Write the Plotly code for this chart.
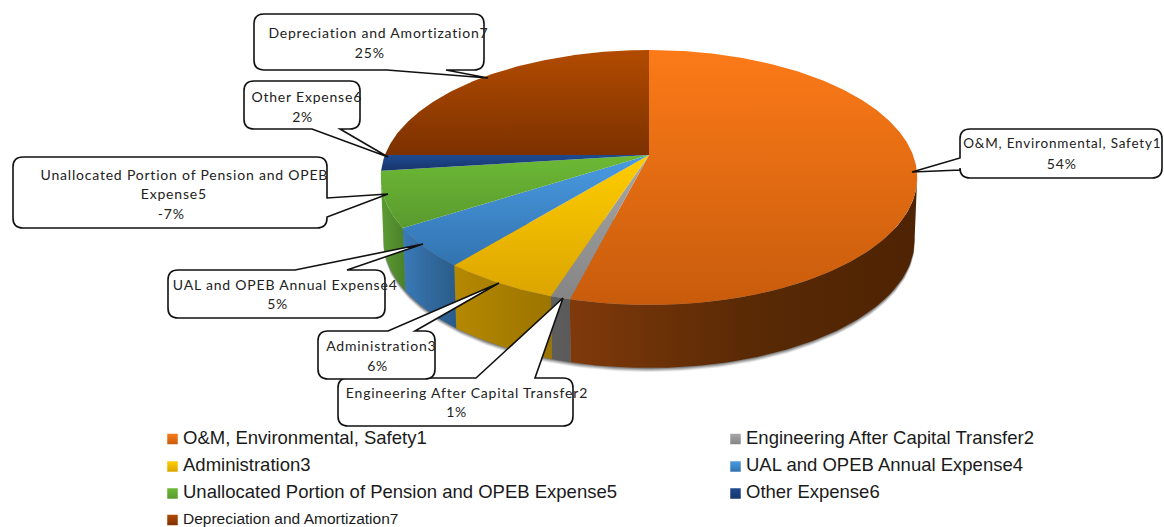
import numpy as np
import plotly.graph_objects as go

# ---------- data ----------
names = ["O&M, Environmental, Safety1", "Engineering After Capital Transfer2", "Administration3",
         "UAL and OPEB Annual Expense4", "Unallocated Portion of Pension and OPEB Expense5",
         "Other Expense6", "Depreciation and Amortization7"]
percent = [54, 1, 6, 5, -7, 2, 25]

# ---------- styles ----------
top_colors = [("#fc7a18", "#c85c0c"), ("#a8a8a8", "#858585"), ("#ffcd00", "#dca500"),
              ("#4a9be2", "#3273b0"), ("#6cb935", "#5a9a2e"), ("#1f4a90", "#16356c"),
              ("#b24b00", "#7c3100")]
side_colors = [("#80390a", "#5a2a05", "#4e2303"), ("#5e5e5e", "#5c5c5c", "#5a5a5a"), ("#b58800", "#a87e00", "#9c7500"),
               ("#3a7ab8", "#32699e", "#2a5c8a"), ("#5d9c34", "#538e2e", "#4a8028"), ("#16356c", "#16356c", "#16356c"),
               ("#7c3100", "#7c3100", "#7c3100")]

# ---------- projection of the tilted disc onto the page ----------
CX, CY, RX, RY, PERSP = 649.0, 155.0, 264.0, 123.5, 0.1765
DEPTH, BOTTOM_SCALE = 63.0, 0.99


def project(theta):
    X, Z = np.sin(theta), -np.cos(theta)
    s = 1.0 / (1.0 - PERSP * Z)
    return CX + RX * X * s, CY + RY * Z * s


def project_bottom(theta):
    x, y = project(theta)
    return CX + (x - CX) * BOTTOM_SCALE, y + DEPTH


mags = np.abs(np.array(percent, dtype=float))
edges = np.concatenate([[0.0], np.cumsum(mags) / mags.sum() * 2 * np.pi])
VIS_A = np.arccos(-PERSP)
VIS_B = 2 * np.pi - VIS_A

fig = go.Figure()


def poly(xs, ys, kind, stops):
    xs, ys = np.asarray(xs), np.asarray(ys)
    if kind == "vertical":
        start, stop = ys.min(), ys.max()
    else:
        start, stop = xs.min(), xs.max()
    scale = [[j / (len(stops) - 1), c] for j, c in enumerate(stops)]
    fig.add_trace(go.Scatter(
        x=xs, y=ys, mode="lines", line=dict(width=0), fill="toself", hoverinfo="skip", showlegend=False,
        fillgradient=dict(type=kind, colorscale=scale, start=start, stop=stop)))


# soft shadow under the disc
tt = np.linspace(VIS_A - 0.1, VIS_B + 0.1, 160)
bx, by = project_bottom(tt)
for off, alpha in [(4.0, 0.12), (3.0, 0.18), (2.0, 0.25), (1.0, 0.35)]:
    fig.add_trace(go.Scatter(
        x=np.r_[bx, CX], y=np.r_[by + off, CY + DEPTH], mode="lines", line=dict(width=0), fill="toself",
        fillcolor=f"rgba(60,60,60,{alpha})", hoverinfo="skip", showlegend=False))

# walls
for i in range(len(names)):
    a, b = max(edges[i], VIS_A), min(edges[i + 1], VIS_B)
    if b <= a:
        continue
    t = np.linspace(a, b, 80)
    x1, y1 = project(t)
    x2, y2 = project_bottom(t)
    # the wall runs right-to-left in theta, the gradient is laid out on x
    poly(np.r_[x1, x2[::-1], x1[0]], np.r_[y1, y2[::-1], y1[0]], "horizontal", side_colors[i])

# top faces
for i in range(len(names)):
    t = np.linspace(edges[i], edges[i + 1], max(8, int((edges[i + 1] - edges[i]) * 90)))
    x1, y1 = project(t)
    poly(np.r_[CX, x1, CX], np.r_[CY, y1, CY], "vertical", top_colors[i])

# ---------- legend ----------
legend_pos = [(172.5, 439), (735.5, 439), (172.5, 466.5), (735.5, 466.5), (172.5, 493.5), (735.5, 493.5), (172.5, 520)]
legend_size = [18.5, 18.5, 18.5, 18.5, 18.5, 18.5, 15.5]
LEGEND_TEXT_GAP = 10.5
for i, nm in enumerate(names):
    fig.add_trace(go.Scatter(
        x=[legend_pos[i][0]], y=[legend_pos[i][1]], mode="markers",
        marker=dict(symbol="square", size=10.5, color=top_colors[i][0], line=dict(width=0),
                    gradient=dict(type="vertical", color=top_colors[i][1])),
        hoverinfo="skip", showlegend=False, cliponaxis=False))
    fig.add_trace(go.Scatter(
        x=[legend_pos[i][0] + LEGEND_TEXT_GAP], y=[legend_pos[i][1]], mode="text", text=[nm],
        textposition="middle right",
        textfont=dict(family="Liberation Sans", size=legend_size[i], color="#1a1a1a"),
        hoverinfo="skip", showlegend=False, cliponaxis=False))


# ---------- callouts ----------
def callout(x0, y0, x1, y1, side, p1, tip, p2, r=10):
    d = [f"M{x0 + r},{y0}"]
    if side == "top":
        d += [f"L{p1},{y0}", f"L{tip[0]},{tip[1]}", f"L{p2},{y0}"]
    d += [f"L{x1 - r},{y0}", f"Q{x1},{y0} {x1},{y0 + r}"]
    if side == "right":
        d += [f"L{x1},{p1}", f"L{tip[0]},{tip[1]}", f"L{x1},{p2}"]
    d += [f"L{x1},{y1 - r}", f"Q{x1},{y1} {x1 - r},{y1}"]
    if side == "bottom":
        d += [f"L{p2},{y1}", f"L{tip[0]},{tip[1]}", f"L{p1},{y1}"]
    d += [f"L{x0 + r},{y1}", f"Q{x0},{y1} {x0},{y1 - r}"]
    if side == "left":
        d += [f"L{x0},{p2}", f"L{tip[0]},{tip[1]}", f"L{x0},{p1}"]
    d += [f"L{x0},{y0 + r}", f"Q{x0},{y0} {x0 + r},{y0}", "Z"]
    return dict(type="path", path=" ".join(d), xref="x", yref="y", layer="above",
                fillcolor="white", line=dict(color="#111111", width=1.6))


shapes = [
    callout(960, 129, 1162, 178, "left", 158, (912, 172), 170),
    callout(338, 378, 573, 426, "top", 476, (563, 298), 535),
    callout(318, 331, 435, 379, "top", 388, (499, 283), 415),
    callout(168, 270, 385, 318, "top", 295, (423, 244), 347),
    callout(13, 157, 327, 228, "right", 198, (388, 194), 217),
    callout(244, 81, 360, 129, "bottom", 312, (388, 157), 340),
    callout(254, 14, 484, 70, "bottom", 387, (488, 78), 446),
]

label_lines = [
    [(names[0], 1062, 143, 13.5), (f"{percent[0]}%", 1061, 163, 14)],
    [(names[1], 467, 392, 14), (f"{percent[1]}%", 456, 411, 14)],
    [(names[2], 381, 345, 14), (f"{percent[2]}%", 377, 365, 14)],
    [(names[3], 285, 284, 14), (f"{percent[3]}%", 277, 303, 14)],
    [("Unallocated Portion of Pension and OPEB", 184, 174, 14), ("Expense5", 174, 193, 14), (f"{percent[4]}%", 171, 213, 14)],
    [(names[5], 306, 96, 14), (f"{percent[5]}%", 302, 116, 14)],
    [(names[6], 378, 32, 14), (f"{percent[6]}%", 369, 52, 14)],
]
annotations = []
for group in label_lines:
    for txt, x, y, size in group:
        annotations.append(dict(text=txt, x=x, y=y, xref="x", yref="y", showarrow=False, xanchor="center",
                                yanchor="middle", font=dict(family="Lato", size=size, color="#222222")))

fig.update_layout(
    width=1164, height=527, margin=dict(l=0, r=0, t=0, b=0), paper_bgcolor="white", plot_bgcolor="white",
    xaxis=dict(range=[0, 1164], visible=False, fixedrange=True),
    yaxis=dict(range=[527, 0], visible=False, fixedrange=True),
    shapes=shapes, annotations=annotations, showlegend=False)

fig.write_html("out.html", config={"displayModeBar": False},
               post_script="document.body.style.margin='0';document.documentElement.style.overflow='hidden';"
                           "document.querySelectorAll('.annotation-text').forEach(function(t){t.style.letterSpacing='0.8px';});")
